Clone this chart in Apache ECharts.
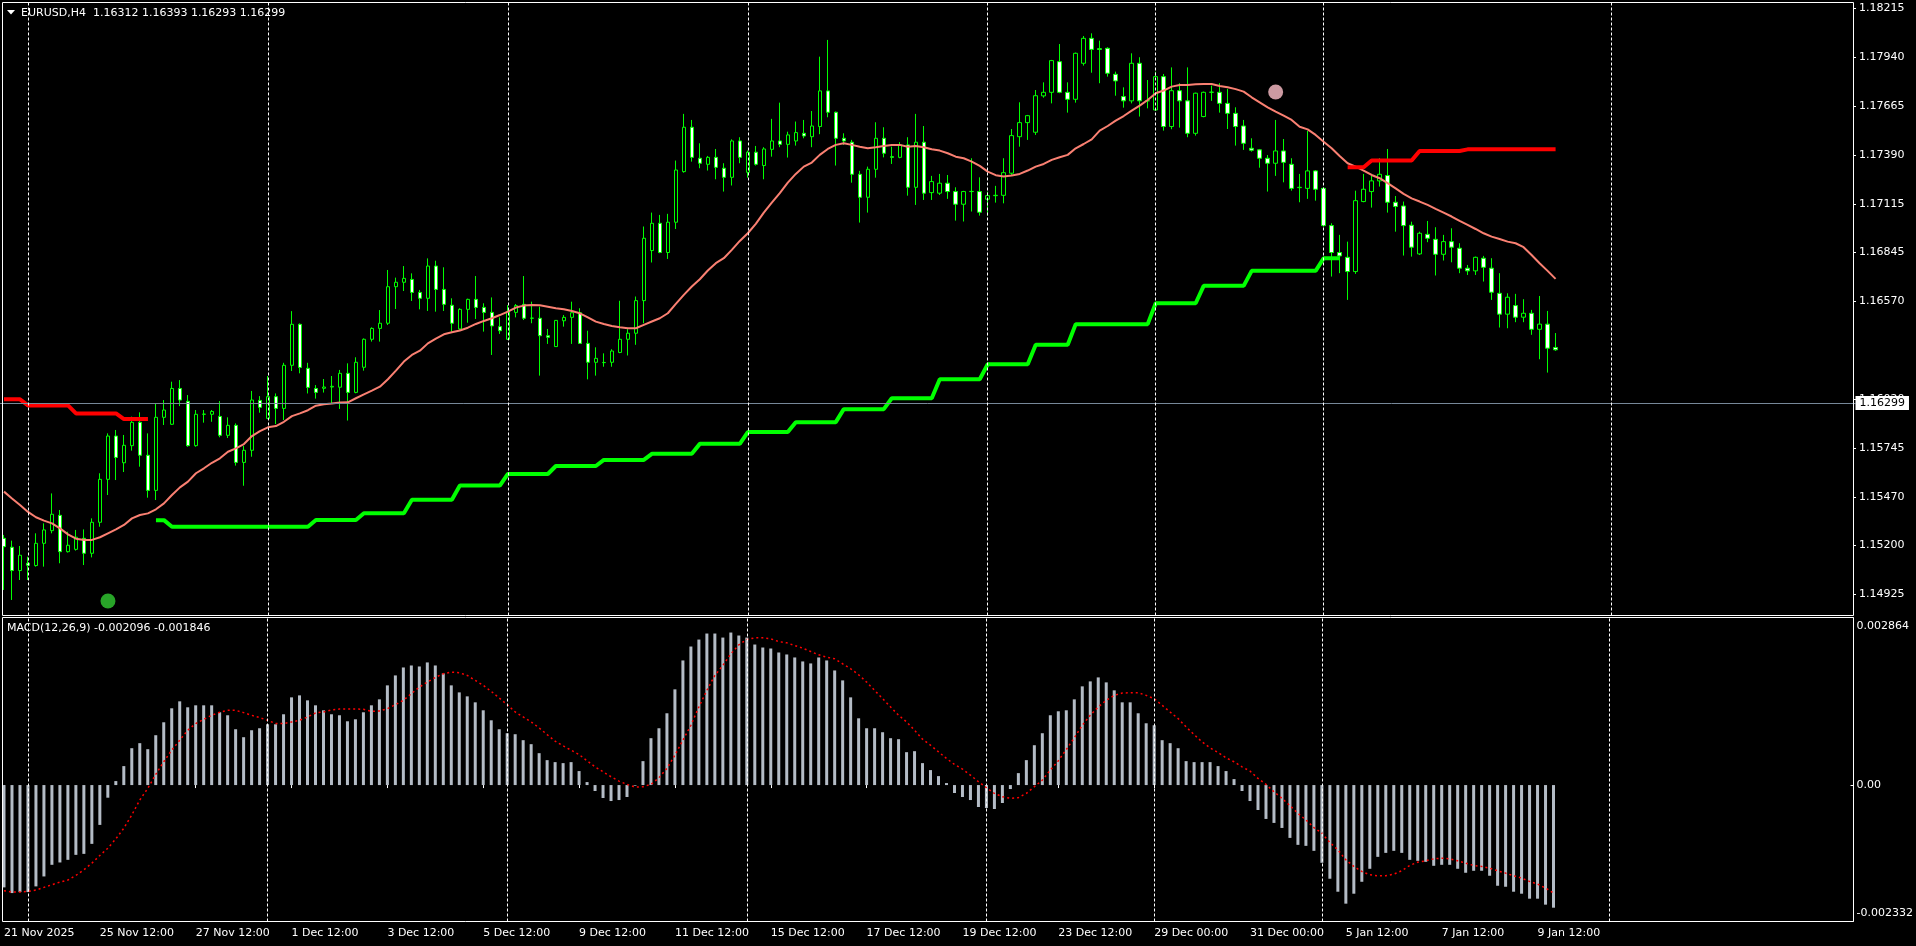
<!DOCTYPE html>
<html>
<head>
<meta charset="utf-8">
<title>EURUSD,H4</title>
<script src="https://cdn.jsdelivr.net/npm/echarts@6/dist/echarts.min.js"></script>
<style>
  html, body { margin: 0; padding: 0; background: #000; }
  #chart { width: 1916px; height: 946px; }
</style>
</head>
<body>
<div id="chart"></div>
<script>
// H4 bars, one row per bar: [open, high, low, close]
var ohlc = [
    /* 0 */ [1.15241, 1.15260, 1.14951, 1.15194], [1.15191, 1.15228, 1.14895, 1.15060], [1.15060, 1.15198, 1.15007, 1.15146], [1.15101, 1.15138, 1.15007, 1.15090], [1.15088, 1.15269, 1.15082, 1.15213],
    /* 5 */ [1.15213, 1.15325, 1.15082, 1.15288], [1.15284, 1.15493, 1.15269, 1.15376], [1.15370, 1.15400, 1.15101, 1.15166], [1.15166, 1.15278, 1.15161, 1.15202], [1.15179, 1.15288, 1.15172, 1.15247],
    /* 10 */ [1.15241, 1.15291, 1.15091, 1.15157], [1.15157, 1.15353, 1.15134, 1.15331], [1.15331, 1.15606, 1.15306, 1.15572], [1.15572, 1.15830, 1.15484, 1.15815], [1.15815, 1.15849, 1.15568, 1.15695],
    /* 15 */ [1.15665, 1.15821, 1.15613, 1.15763], [1.15761, 1.15924, 1.15733, 1.15892], [1.15892, 1.15948, 1.15643, 1.15707], [1.15707, 1.15830, 1.15469, 1.15510], [1.15510, 1.15998, 1.15456, 1.15920],
    /* 20 */ [1.15920, 1.16017, 1.15877, 1.15961], [1.15881, 1.16120, 1.15877, 1.16082], [1.16082, 1.16129, 1.15983, 1.16017], [1.16010, 1.16045, 1.15755, 1.15761], [1.15761, 1.15961, 1.15755, 1.15937],
    /* 25 */ [1.15937, 1.15961, 1.15890, 1.15938], [1.15937, 1.15961, 1.15895, 1.15953], [1.15925, 1.16011, 1.15808, 1.15819], [1.15819, 1.15920, 1.15804, 1.15875], [1.15875, 1.15886, 1.15649, 1.15667],
    /* 30 */ [1.15667, 1.15759, 1.15536, 1.15735], [1.15735, 1.16068, 1.15699, 1.16017], [1.16015, 1.16039, 1.15946, 1.15976], [1.15914, 1.16152, 1.15910, 1.16036], [1.16036, 1.16054, 1.15882, 1.15970],
    /* 35 */ [1.15970, 1.16226, 1.15905, 1.16212], [1.16212, 1.16516, 1.16180, 1.16442], [1.16442, 1.16447, 1.16167, 1.16200], [1.16195, 1.16226, 1.16054, 1.16088], [1.16082, 1.16101, 1.16025, 1.16060],
    /* 40 */ [1.16083, 1.16135, 1.16059, 1.16090], [1.16090, 1.16152, 1.15999, 1.16094], [1.16089, 1.16186, 1.15967, 1.16167], [1.16167, 1.16223, 1.15902, 1.16060], [1.16060, 1.16257, 1.16055, 1.16229],
    /* 45 */ [1.16201, 1.16363, 1.16182, 1.16358], [1.16358, 1.16425, 1.16345, 1.16419], [1.16419, 1.16522, 1.16345, 1.16448], [1.16448, 1.16747, 1.16438, 1.16653], [1.16653, 1.16704, 1.16528, 1.16678],
    /* 50 */ [1.16678, 1.16769, 1.16629, 1.16700], [1.16694, 1.16728, 1.16573, 1.16621], [1.16621, 1.16635, 1.16526, 1.16588], [1.16588, 1.16812, 1.16517, 1.16769], [1.16769, 1.16799, 1.16513, 1.16638],
    /* 55 */ [1.16638, 1.16762, 1.16517, 1.16554], [1.16549, 1.16588, 1.16401, 1.16448], [1.16416, 1.16532, 1.16406, 1.16526], [1.16526, 1.16586, 1.16451, 1.16582], [1.16582, 1.16713, 1.16472, 1.16537],
    /* 60 */ [1.16537, 1.16560, 1.16401, 1.16509], [1.16509, 1.16593, 1.16270, 1.16433], [1.16429, 1.16481, 1.16388, 1.16406], [1.16358, 1.16550, 1.16354, 1.16513], [1.16509, 1.16556, 1.16481, 1.16547],
    /* 65 */ [1.16554, 1.16713, 1.16466, 1.16476], [1.16476, 1.16569, 1.16448, 1.16477], [1.16476, 1.16541, 1.16154, 1.16378], [1.16378, 1.16416, 1.16332, 1.16369], [1.16317, 1.16466, 1.16317, 1.16464],
    /* 70 */ [1.16462, 1.16494, 1.16429, 1.16481], [1.16481, 1.16569, 1.16332, 1.16507], [1.16507, 1.16532, 1.16332, 1.16335], [1.16335, 1.16406, 1.16133, 1.16229], [1.16229, 1.16313, 1.16154, 1.16251],
    /* 75 */ [1.16227, 1.16279, 1.16204, 1.16228], [1.16229, 1.16302, 1.16204, 1.16292], [1.16284, 1.16574, 1.16280, 1.16358], [1.16358, 1.16415, 1.16267, 1.16392], [1.16392, 1.16598, 1.16327, 1.16575],
    /* 80 */ [1.16575, 1.16991, 1.16448, 1.16925], [1.16856, 1.17069, 1.16789, 1.17009], [1.17009, 1.17056, 1.16841, 1.16845], [1.16845, 1.17062, 1.16809, 1.17015], [1.17015, 1.17361, 1.16977, 1.17308],
    /* 85 */ [1.17299, 1.17623, 1.17293, 1.17548], [1.17548, 1.17589, 1.17355, 1.17379], [1.17374, 1.17458, 1.17318, 1.17346], [1.17340, 1.17387, 1.17305, 1.17379], [1.17379, 1.17426, 1.17256, 1.17323],
    /* 90 */ [1.17318, 1.17346, 1.17187, 1.17267], [1.17267, 1.17480, 1.17221, 1.17471], [1.17471, 1.17492, 1.17346, 1.17379], [1.17295, 1.17417, 1.17265, 1.17408], [1.17408, 1.17443, 1.17333, 1.17340],
    /* 95 */ [1.17333, 1.17436, 1.17256, 1.17426], [1.17424, 1.17595, 1.17383, 1.17471], [1.17471, 1.17686, 1.17436, 1.17452], [1.17452, 1.17523, 1.17378, 1.17505], [1.17471, 1.17580, 1.17445, 1.17518],
    /* 100 */ [1.17514, 1.17589, 1.17486, 1.17499], [1.17495, 1.17639, 1.17436, 1.17555], [1.17552, 1.17944, 1.17509, 1.17752], [1.17752, 1.18038, 1.17604, 1.17632], [1.17632, 1.17636, 1.17333, 1.17486],
    /* 105 */ [1.17486, 1.17514, 1.17449, 1.17471], [1.17464, 1.17477, 1.17237, 1.17284], [1.17284, 1.17303, 1.17013, 1.17155], [1.17155, 1.17327, 1.17069, 1.17312], [1.17312, 1.17576, 1.17265, 1.17486],
    /* 110 */ [1.17486, 1.17548, 1.17379, 1.17402], [1.17383, 1.17439, 1.17342, 1.17379], [1.17379, 1.17464, 1.17374, 1.17449], [1.17449, 1.17492, 1.17164, 1.17211], [1.17211, 1.17623, 1.17112, 1.17464],
    /* 115 */ [1.17464, 1.17555, 1.17140, 1.17178], [1.17181, 1.17275, 1.17140, 1.17243], [1.17178, 1.17286, 1.17168, 1.17234], [1.17234, 1.17280, 1.17146, 1.17187], [1.17187, 1.17211, 1.17024, 1.17116],
    /* 120 */ [1.17116, 1.17191, 1.17019, 1.17187], [1.17187, 1.17374, 1.17075, 1.17188], [1.17187, 1.17267, 1.17052, 1.17071], [1.17144, 1.17187, 1.17052, 1.17164], [1.17164, 1.17219, 1.17125, 1.17166],
    /* 125 */ [1.17166, 1.17374, 1.17121, 1.17293], [1.17290, 1.17538, 1.17280, 1.17501], [1.17495, 1.17688, 1.17439, 1.17574], [1.17574, 1.17617, 1.17477, 1.17613], [1.17520, 1.17757, 1.17505, 1.17725],
    /* 130 */ [1.17724, 1.17800, 1.17714, 1.17744], [1.17744, 1.17926, 1.17682, 1.17922], [1.17916, 1.18015, 1.17739, 1.17744], [1.17744, 1.17800, 1.17630, 1.17705], [1.17705, 1.17967, 1.17686, 1.17963],
    /* 135 */ [1.17907, 1.18060, 1.17894, 1.18047], [1.18047, 1.18075, 1.17854, 1.17985], [1.17989, 1.18034, 1.17795, 1.17985], [1.17991, 1.17997, 1.17832, 1.17851], [1.17845, 1.17860, 1.17725, 1.17808],
    /* 140 */ [1.17720, 1.17772, 1.17658, 1.17696], [1.17696, 1.17963, 1.17682, 1.17907], [1.17907, 1.17941, 1.17608, 1.17696], [1.17696, 1.17813, 1.17654, 1.17697], [1.17645, 1.17860, 1.17641, 1.17832],
    /* 145 */ [1.17832, 1.17847, 1.17529, 1.17552], [1.17552, 1.17884, 1.17537, 1.17753], [1.17753, 1.17795, 1.17546, 1.17696], [1.17696, 1.17884, 1.17492, 1.17514], [1.17514, 1.17742, 1.17501, 1.17739],
    /* 150 */ [1.17608, 1.17748, 1.17604, 1.17744], [1.17744, 1.17782, 1.17696, 1.17745], [1.17744, 1.17795, 1.17630, 1.17682], [1.17682, 1.17763, 1.17538, 1.17626], [1.17626, 1.17660, 1.17445, 1.17552],
    /* 155 */ [1.17555, 1.17589, 1.17421, 1.17458], [1.17430, 1.17486, 1.17411, 1.17419], [1.17421, 1.17426, 1.17321, 1.17374], [1.17374, 1.17392, 1.17187, 1.17346], [1.17346, 1.17589, 1.17275, 1.17415],
    /* 160 */ [1.17415, 1.17482, 1.17239, 1.17351], [1.17340, 1.17374, 1.17192, 1.17205], [1.17209, 1.17286, 1.17127, 1.17211], [1.17205, 1.17527, 1.17146, 1.17303], [1.17303, 1.17308, 1.17136, 1.17200],
    /* 165 */ [1.17205, 1.17209, 1.16990, 1.16996], [1.16996, 1.17009, 1.16710, 1.16845], [1.16845, 1.16944, 1.16729, 1.16826], [1.16818, 1.16906, 1.16579, 1.16738], [1.16738, 1.17192, 1.16725, 1.17136],
    /* 170 */ [1.17131, 1.17286, 1.17127, 1.17200], [1.17187, 1.17275, 1.17097, 1.17247], [1.17247, 1.17374, 1.17215, 1.17284], [1.17277, 1.17426, 1.17069, 1.17127], [1.17127, 1.17162, 1.16962, 1.17103],
    /* 175 */ [1.17106, 1.17131, 1.16828, 1.16996], [1.16998, 1.17018, 1.16822, 1.16875], [1.16837, 1.16962, 1.16831, 1.16953], [1.16947, 1.17022, 1.16903, 1.16925], [1.16919, 1.16987, 1.16716, 1.16835],
    /* 180 */ [1.16835, 1.16944, 1.16800, 1.16906], [1.16906, 1.16981, 1.16790, 1.16875], [1.16869, 1.16897, 1.16729, 1.16757], [1.16757, 1.16775, 1.16719, 1.16742], [1.16742, 1.16822, 1.16719, 1.16818],
    /* 185 */ [1.16813, 1.16826, 1.16682, 1.16762], [1.16757, 1.16813, 1.16579, 1.16622], [1.16616, 1.16729, 1.16424, 1.16499], [1.16499, 1.16616, 1.16420, 1.16594], [1.16547, 1.16613, 1.16454, 1.16482],
    /* 190 */ [1.16482, 1.16583, 1.16454, 1.16504], [1.16504, 1.16523, 1.16383, 1.16414], [1.16414, 1.16601, 1.16246, 1.16443], [1.16443, 1.16517, 1.16171, 1.16308], [1.16312, 1.16393, 1.16293, 1.16299]
];

// moving average (salmon line)
var maValues = [
    /* 0 */ 1.15503, 1.15465, 1.15428, 1.15389, 1.15359, 1.15340, 1.15325, 1.15297, 1.15263, 1.15239,
    /* 10 */ 1.15232, 1.15232, 1.15247, 1.15269, 1.15291, 1.15316, 1.15353, 1.15372, 1.15381, 1.15404,
    /* 20 */ 1.15437, 1.15484, 1.15527, 1.15559, 1.15606, 1.15634, 1.15665, 1.15690, 1.15727, 1.15746,
    /* 30 */ 1.15770, 1.15815, 1.15843, 1.15864, 1.15871, 1.15895, 1.15927, 1.15942, 1.15960, 1.15985,
    /* 40 */ 1.15993, 1.15997, 1.16003, 1.16004, 1.16027, 1.16049, 1.16070, 1.16092, 1.16134, 1.16182,
    /* 50 */ 1.16233, 1.16270, 1.16294, 1.16335, 1.16362, 1.16386, 1.16397, 1.16407, 1.16423, 1.16444,
    /* 60 */ 1.16461, 1.16476, 1.16494, 1.16513, 1.16536, 1.16547, 1.16551, 1.16549, 1.16541, 1.16532,
    /* 70 */ 1.16526, 1.16517, 1.16504, 1.16481, 1.16457, 1.16444, 1.16433, 1.16425, 1.16420, 1.16420,
    /* 80 */ 1.16439, 1.16458, 1.16476, 1.16504, 1.16557, 1.16607, 1.16654, 1.16695, 1.16744, 1.16785,
    /* 90 */ 1.16813, 1.16860, 1.16910, 1.16953, 1.17006, 1.17069, 1.17125, 1.17178, 1.17237, 1.17286,
    /* 100 */ 1.17327, 1.17350, 1.17393, 1.17426, 1.17449, 1.17458, 1.17449, 1.17439, 1.17430, 1.17436,
    /* 110 */ 1.17443, 1.17449, 1.17449, 1.17439, 1.17443, 1.17436, 1.17424, 1.17417, 1.17402, 1.17383,
    /* 120 */ 1.17374, 1.17355, 1.17331, 1.17299, 1.17279, 1.17271, 1.17277, 1.17286, 1.17305, 1.17327,
    /* 130 */ 1.17342, 1.17365, 1.17380, 1.17393, 1.17430, 1.17454, 1.17480, 1.17529, 1.17555, 1.17585,
    /* 140 */ 1.17611, 1.17641, 1.17669, 1.17701, 1.17739, 1.17754, 1.17776, 1.17785, 1.17785, 1.17789,
    /* 150 */ 1.17791, 1.17791, 1.17780, 1.17772, 1.17762, 1.17748, 1.17716, 1.17688, 1.17660, 1.17636,
    /* 160 */ 1.17613, 1.17589, 1.17551, 1.17536, 1.17505, 1.17467, 1.17430, 1.17387, 1.17346, 1.17327,
    /* 170 */ 1.17305, 1.17280, 1.17262, 1.17234, 1.17205, 1.17174, 1.17149, 1.17131, 1.17112, 1.17090,
    /* 180 */ 1.17069, 1.17047, 1.17022, 1.17000, 1.16977, 1.16953, 1.16934, 1.16921, 1.16906, 1.16897,
    /* 190 */ 1.16875, 1.16831, 1.16785, 1.16742, 1.16697
];

// MACD(12,26,9) main histogram
var macdHist = [
    /* 0 */ -0.001749, -0.001846, -0.001829, -0.001829, -0.001732, -0.001562, -0.001363, -0.001323, -0.001278, -0.001193,
    /* 10 */ -0.001176, -0.001005, -0.000681, -0.000216, 0.000068, 0.000324, 0.000630, 0.000716, 0.000613, 0.000852,
    /* 20 */ 0.001073, 0.001312, 0.001431, 0.001329, 0.001363, 0.001363, 0.001363, 0.001244, 0.001193, 0.000954,
    /* 30 */ 0.000818, 0.000937, 0.000971, 0.001039, 0.001039, 0.001210, 0.001499, 0.001533, 0.001448, 0.001363,
    /* 40 */ 0.001278, 0.001210, 0.001193, 0.001090, 0.001124, 0.001244, 0.001363, 0.001465, 0.001704, 0.001874,
    /* 50 */ 0.002010, 0.002044, 0.002027, 0.002096, 0.002044, 0.001908, 0.001704, 0.001584, 0.001516, 0.001414,
    /* 60 */ 0.001278, 0.001107, 0.000954, 0.000886, 0.000869, 0.000767, 0.000699, 0.000545, 0.000426, 0.000392,
    /* 70 */ 0.000375, 0.000392, 0.000239, 0.000051, -0.000102, -0.000221, -0.000273, -0.000256, -0.000204, -0.000011,
    /* 80 */ 0.000409, 0.000801, 0.000971, 0.001227, 0.001636, 0.002130, 0.002368, 0.002487, 0.002590, 0.002590,
    /* 90 */ 0.002521, 0.002607, 0.002556, 0.002521, 0.002402, 0.002351, 0.002334, 0.002266, 0.002232, 0.002181,
    /* 100 */ 0.002113, 0.002079, 0.002181, 0.002130, 0.001959, 0.001789, 0.001499, 0.001141, 0.000971, 0.000971,
    /* 110 */ 0.000903, 0.000801, 0.000784, 0.000562, 0.000579, 0.000375, 0.000256, 0.000153, 0.000034, -0.000136,
    /* 120 */ -0.000204, -0.000256, -0.000375, -0.000392, -0.000409, -0.000307, -0.000068, 0.000204, 0.000426, 0.000681,
    /* 130 */ 0.000886, 0.001193, 0.001261, 0.001278, 0.001465, 0.001687, 0.001772, 0.001840, 0.001755, 0.001619,
    /* 140 */ 0.001414, 0.001414, 0.001227, 0.001056, 0.001022, 0.000767, 0.000716, 0.000630, 0.000409, 0.000392,
    /* 150 */ 0.000392, 0.000392, 0.000324, 0.000239, 0.000102, -0.000102, -0.000273, -0.000426, -0.000579, -0.000647,
    /* 160 */ -0.000733, -0.000903, -0.001022, -0.001039, -0.001124, -0.001329, -0.001601, -0.001823, -0.002027, -0.001857,
    /* 170 */ -0.001653, -0.001431, -0.001227, -0.001159, -0.001124, -0.001159, -0.001278, -0.001295, -0.001312, -0.001380,
    /* 180 */ -0.001363, -0.001363, -0.001431, -0.001499, -0.001465, -0.001465, -0.001550, -0.001721, -0.001738, -0.001823,
    /* 190 */ -0.001857, -0.001942, -0.001942, -0.002044, -0.002096
];

// MACD signal line
var macdSignal = [
    /* 0 */ -0.001806, -0.001829, -0.001829, -0.001817, -0.001795, -0.001749, -0.001704, -0.001658, -0.001624, -0.001545,
    /* 10 */ -0.001448, -0.001335, -0.001204, -0.001079, -0.000920, -0.000738, -0.000511, -0.000256, -0.000057, 0.000182,
    /* 20 */ 0.000398, 0.000596, 0.000767, 0.000937, 0.001051, 0.001124, 0.001193, 0.001244, 0.001278, 0.001278,
    /* 30 */ 0.001238, 0.001193, 0.001153, 0.001107, 0.001051, 0.001051, 0.001079, 0.001107, 0.001164, 0.001232,
    /* 40 */ 0.001249, 0.001283, 0.001300, 0.001300, 0.001300, 0.001295, 0.001261, 0.001266, 0.001306, 0.001374,
    /* 50 */ 0.001448, 0.001562, 0.001675, 0.001760, 0.001840, 0.001902, 0.001931, 0.001920, 0.001874, 0.001789,
    /* 60 */ 0.001704, 0.001601, 0.001488, 0.001374, 0.001249, 0.001164, 0.001079, 0.000977, 0.000863, 0.000750,
    /* 70 */ 0.000670, 0.000596, 0.000522, 0.000415, 0.000312, 0.000227, 0.000142, 0.000068, 0.000011, -0.000034,
    /* 80 */ -0.000028, 0.000011, 0.000125, 0.000284, 0.000511, 0.000767, 0.001022, 0.001335, 0.001619, 0.001874,
    /* 90 */ 0.002044, 0.002243, 0.002397, 0.002487, 0.002516, 0.002516, 0.002499, 0.002453, 0.002431, 0.002385,
    /* 100 */ 0.002340, 0.002283, 0.002226, 0.002186, 0.002158, 0.002073, 0.001988, 0.001885, 0.001760, 0.001619,
    /* 110 */ 0.001477, 0.001335, 0.001193, 0.001079, 0.000937, 0.000784, 0.000681, 0.000568, 0.000454, 0.000352,
    /* 120 */ 0.000273, 0.000170, 0.000057, -0.000045, -0.000142, -0.000199, -0.000227, -0.000216, -0.000142, -0.000028,
    /* 130 */ 0.000085, 0.000256, 0.000415, 0.000608, 0.000806, 0.001022, 0.001193, 0.001335, 0.001448, 0.001533,
    /* 140 */ 0.001573, 0.001579, 0.001579, 0.001533, 0.001477, 0.001363, 0.001249, 0.001136, 0.000994, 0.000863,
    /* 150 */ 0.000738, 0.000636, 0.000557, 0.000466, 0.000398, 0.000312, 0.000239, 0.000114, 0.000011, -0.000114,
    /* 160 */ -0.000227, -0.000352, -0.000483, -0.000596, -0.000727, -0.000823, -0.000982, -0.001107, -0.001278, -0.001391,
    /* 170 */ -0.001477, -0.001533, -0.001550, -0.001550, -0.001522, -0.001465, -0.001374, -0.001318, -0.001295, -0.001261,
    /* 180 */ -0.001249, -0.001261, -0.001295, -0.001335, -0.001374, -0.001391, -0.001420, -0.001465, -0.001505, -0.001550,
    /* 190 */ -0.001590, -0.001647, -0.001692, -0.001760, -0.001846
];

// stepped levels: [first bar, last bar, price]
var resistSteps = [
    [0, 2, 1.16021], [3, 8, 1.15987], [9, 14, 1.15942], [15, 18, 1.15910],
    [168, 170, 1.17323], [171, 176, 1.17361], [177, 182, 1.17415], [183, 194, 1.17424]
];
var supportSteps = [
    [19, 20, 1.15343], [21, 38, 1.15306], [39, 44, 1.15344], [45, 50, 1.15382], [51, 56, 1.15457],
    [57, 62, 1.15537], [63, 68, 1.15602], [69, 74, 1.15647], [75, 80, 1.15681], [81, 86, 1.15715],
    [87, 92, 1.15771], [93, 98, 1.15837], [99, 104, 1.15893], [105, 110, 1.15966], [111, 116, 1.16027],
    [117, 122, 1.16134], [123, 128, 1.16218], [129, 133, 1.16327], [134, 143, 1.16443], [144, 149, 1.16560],
    [150, 155, 1.16658], [156, 164, 1.16742], [165, 167, 1.16813]
];

// signal dots: [bar, price]
var buyDots = [[13, 1.14889]];
var sellDots = [[159, 1.17746]];

// axis texts
var priceTicks = [1.18215, 1.17940, 1.17665, 1.17390, 1.17115, 1.16845, 1.16570, 1.16020, 1.15745, 1.15470, 1.15200, 1.14925];
var macdTicks = [0.002864, 0, -0.002332];
var timeLabels = [
    [0, '21 Nov 2025'], [12, '25 Nov 12:00'], [24, '27 Nov 12:00'], [36, '1 Dec 12:00'], [48, '3 Dec 12:00'],
    [60, '5 Dec 12:00'], [72, '9 Dec 12:00'], [84, '11 Dec 12:00'], [96, '15 Dec 12:00'], [108, '17 Dec 12:00'],
    [120, '19 Dec 12:00'], [132, '23 Dec 12:00'], [144, '29 Dec 00:00'], [156, '31 Dec 00:00'], [168, '5 Jan 12:00'],
    [180, '7 Jan 12:00'], [192, '9 Jan 12:00']
];
var weekLines = [3, 33, 63, 93, 123, 144, 165, 201];
var lastPrice = 1.16299;
var slotCount = 232; // bars plus the empty shift area on the right

var chart = null;
var fontName = '"DejaVu Sans", sans-serif';

initChart();

/**
 * 把台阶数组展开成逐根K线的数值
 */
function expandSteps(steps) {
    var out = [];
    for (var i = 0; i < ohlc.length; i++) out.push(null);
    for (var s = 0; s < steps.length; s++) {
        for (var b = steps[s][0]; b <= steps[s][1]; b++) out[b] = steps[s][2];
    }
    return out;
}

function initChart() {
    chart = echarts.init(document.getElementById('chart'));

    var categories = [];
    for (var i = 0; i < slotCount; i++) categories.push(String(i));

    var labelMap = {};
    for (var t = 0; t < timeLabels.length; t++) labelMap[timeLabels[t][0]] = timeLabels[t][1];

    var candles = [];
    for (var k = 0; k < ohlc.length; k++) {
        var r = ohlc[k];
        candles.push([r[0], r[3], r[2], r[1]]);
    }

    var dashed = { color: '#ffffff', width: 1, type: [3, 2] };
    var mainMarks = [{
        yAxis: lastPrice,
        lineStyle: { color: '#778899', width: 1, type: 'solid' },
        label: {
            show: true, position: 'end', distance: 0,
            formatter: lastPrice.toFixed(5),
            backgroundColor: '#ffffff', color: '#000000',
            fontSize: 11, fontFamily: fontName, padding: [2, 4, 1, 4]
        }
    }];
    var subMarks = [];
    for (var w = 0; w < weekLines.length; w++) {
        mainMarks.push({ xAxis: weekLines[w], lineStyle: dashed, label: { show: false } });
        subMarks.push({ xAxis: weekLines[w], lineStyle: dashed, label: { show: false } });
    }

    var isLabel = function(index) { return labelMap[index] !== undefined; };

    var option = {
        backgroundColor: '#000000',
        animation: false,
        grid: [
            { left: -0.5, top: 2.5, width: 1856, height: 613 },
            { left: -0.5, top: 617.5, width: 1856, height: 304 }
        ],
        xAxis: [
            { type: 'category', gridIndex: 0, data: categories, show: false },
            {
                type: 'category', gridIndex: 1, data: categories,
                axisLine: { show: false },
                axisTick: { show: true, alignWithLabel: true, interval: isLabel, length: 3, lineStyle: { color: '#ffffff' } },
                axisLabel: {
                    interval: isLabel,
                    formatter: function(v, idx) { return labelMap[idx] || ''; },
                    align: 'left', color: '#ffffff', fontSize: 11, fontFamily: fontName, margin: 6
                },
                splitLine: { show: false }
            }
        ],
        yAxis: [
            {
                type: 'value', gridIndex: 0, position: 'right', offset: -2.5,
                min: 1.148078, max: 1.182481,
                axisLine: { show: false },
                axisTick: { show: true, customValues: priceTicks, length: 3, lineStyle: { color: '#ffffff' } },
                axisLabel: {
                    customValues: priceTicks,
                    formatter: function(v) { return v.toFixed(5); },
                    color: '#ffffff', fontSize: 11, fontFamily: fontName, margin: 6
                },
                splitLine: { show: false }
            },
            {
                type: 'value', gridIndex: 1, position: 'right', offset: -2.5,
                min: -0.002332, max: 0.002864,
                axisLine: { show: false },
                axisTick: { show: true, customValues: macdTicks, length: 3, lineStyle: { color: '#ffffff' } },
                axisLabel: {
                    customValues: macdTicks,
                    formatter: function(v) {
                        if (Math.abs(v) < 1e-9) return '{m|0.00}';
                        if (v > 0) return '{t|' + v.toFixed(6) + '}';
                        return '{b|' + v.toFixed(6) + '}';
                    },
                    rich: {
                        t: { color: '#ffffff', fontSize: 11, fontFamily: fontName, padding: [18, 0, 0, 0] },
                        m: { color: '#ffffff', fontSize: 11, fontFamily: fontName },
                        b: { color: '#ffffff', fontSize: 11, fontFamily: fontName, padding: [0, 0, 16, 0] }
                    },
                    color: '#ffffff', fontSize: 11, fontFamily: fontName, margin: 6
                },
                splitLine: { show: false }
            }
        ],
        series: [
            {
                name: 'EURUSD', type: 'candlestick', xAxisIndex: 0, yAxisIndex: 0,
                data: candles, barWidth: 4,
                itemStyle: {
                    color: '#000000', color0: '#ffffff',
                    borderColor: '#00ff00', borderColor0: '#00ff00', borderColorDoji: '#00ff00',
                    borderWidth: 1
                },
                markLine: { silent: true, symbol: ['none', 'none'], animation: false, data: mainMarks }
            },
            {
                name: 'MA', type: 'line', xAxisIndex: 0, yAxisIndex: 0, data: maValues,
                showSymbol: false, symbol: 'none', lineStyle: { color: '#fa8072', width: 2 }
            },
            {
                name: 'support', type: 'line', xAxisIndex: 0, yAxisIndex: 0, data: expandSteps(supportSteps),
                symbol: 'none', connectNulls: false, lineStyle: { color: '#00ff00', width: 4 }
            },
            {
                name: 'resistance', type: 'line', xAxisIndex: 0, yAxisIndex: 0, data: expandSteps(resistSteps),
                symbol: 'none', connectNulls: false, lineStyle: { color: '#ff0000', width: 4 }
            },
            {
                name: 'buy', type: 'scatter', xAxisIndex: 0, yAxisIndex: 0, data: buyDots,
                symbolSize: 15, itemStyle: { color: '#32cd32' }
            },
            {
                name: 'sell', type: 'scatter', xAxisIndex: 0, yAxisIndex: 0, data: sellDots,
                symbolSize: 15, itemStyle: { color: '#ffc0cb' }
            },
            {
                name: 'MACD', type: 'bar', xAxisIndex: 1, yAxisIndex: 1, data: macdHist,
                barWidth: 3, itemStyle: { color: '#b4bcc6' },
                markLine: { silent: true, symbol: ['none', 'none'], animation: false, data: subMarks }
            },
            {
                name: 'Signal', type: 'line', xAxisIndex: 1, yAxisIndex: 1, data: macdSignal,
                symbol: 'none', z: 3, lineStyle: { color: '#ff0000', width: 1.5, type: [2, 3] }
            }
        ],
        graphic: [
            {
                type: 'rect', z: 100, silent: true,
                shape: { x: 2.5, y: 2.5, width: 1851, height: 613 },
                style: { fill: 'none', stroke: '#ffffff', lineWidth: 1 }
            },
            {
                type: 'rect', z: 100, silent: true,
                shape: { x: 2.5, y: 617.5, width: 1851, height: 304 },
                style: { fill: 'none', stroke: '#ffffff', lineWidth: 1 }
            },
            {
                type: 'polygon', z: 100, silent: true,
                shape: { points: [[7, 10], [15, 10], [11, 14.5]] },
                style: { fill: '#ffffff' }
            },
            {
                type: 'text', z: 100, silent: true, x: 21, y: 13,
                style: {
                    text: 'EURUSD,H4  1.16312 1.16393 1.16293 1.16299',
                    fill: '#ffffff', font: '11px ' + fontName, verticalAlign: 'middle'
                }
            },
            {
                type: 'text', z: 100, silent: true, x: 7, y: 628,
                style: {
                    text: 'MACD(12,26,9) -0.002096 -0.001846',
                    fill: '#ffffff', font: '11px ' + fontName, verticalAlign: 'middle'
                }
            }
        ]
    };
    chart.setOption(option);
}
</script>
</body>
</html>
